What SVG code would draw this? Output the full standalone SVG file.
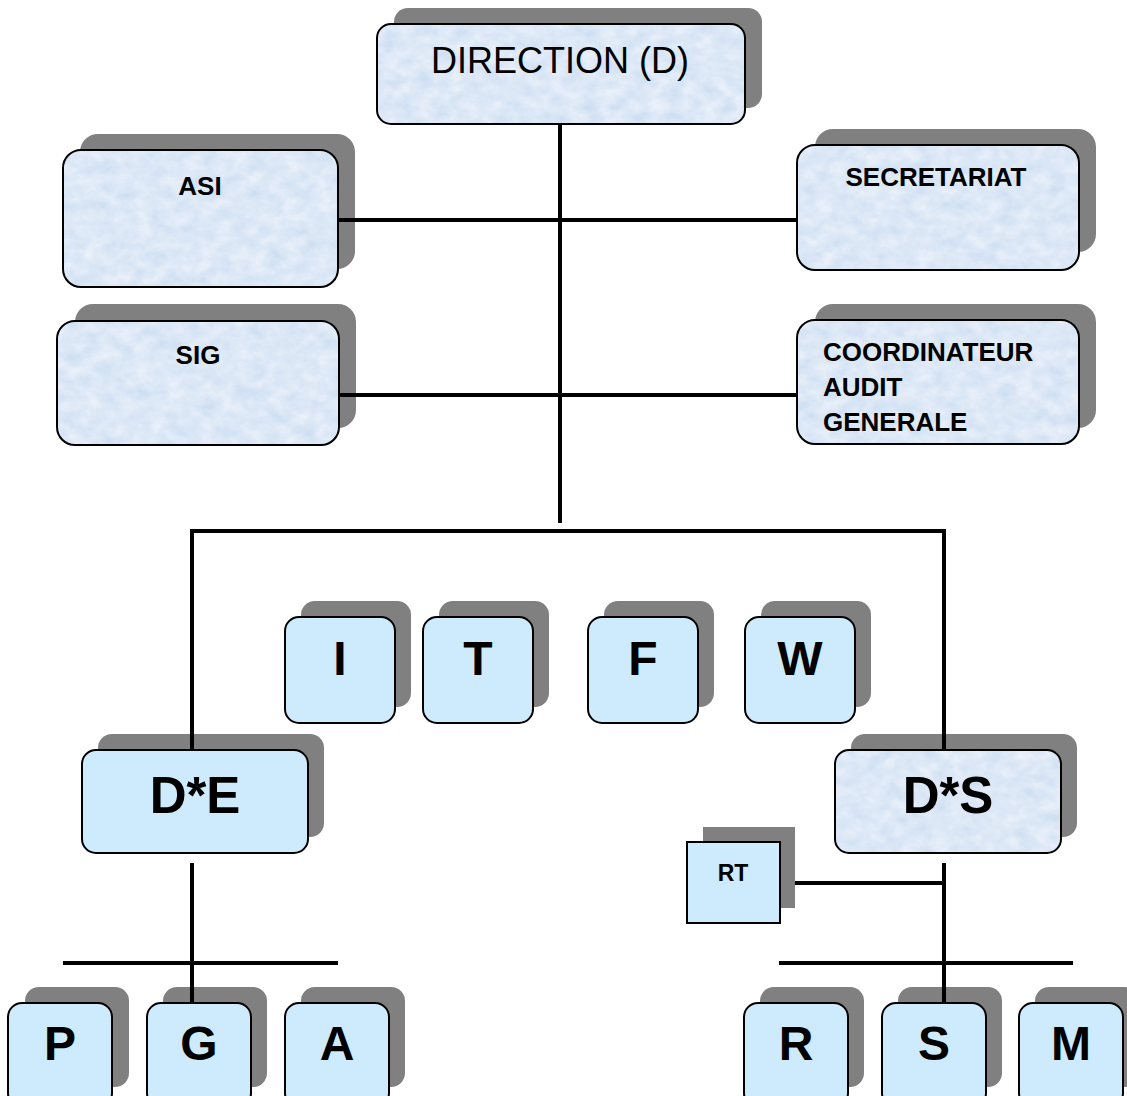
<svg xmlns="http://www.w3.org/2000/svg" width="1127" height="1096" viewBox="0 0 1127 1096">
  <defs>
    <!-- mottled light-blue paper texture for the large boxes -->
    <filter id="marble" x="0" y="0" width="1" height="1" color-interpolation-filters="sRGB">
      <feTurbulence type="fractalNoise" baseFrequency="0.06 0.08" numOctaves="4" seed="7"/>
      <feColorMatrix type="matrix" values="0.16 0 0 0 0.785  0.10 0 0 0 0.86  0.04 0 0 0 0.945  0 0 0 0 1"/>
    </filter>
    <pattern id="tex" patternUnits="userSpaceOnUse" x="0" y="0" width="1127" height="1096">
      <rect width="1127" height="1096" fill="#dce9f6" filter="url(#marble)"/>
    </pattern>
    <style>
      .sh { fill: #808080; }
      .bx { stroke: #000; stroke-width: 2; }
      .tex { fill: url(#tex); }
      .flat { fill: #cdebfd; }
      .t { font-family: "Liberation Sans", Arial, sans-serif; fill: #000; }
      .big { font-size: 36px; text-anchor: middle; }
      .lbl { font-size: 26px; font-weight: bold; }
      .mid { text-anchor: middle; }
      .let { font-size: 48px; font-weight: bold; text-anchor: middle; }
      .dd { font-size: 51px; font-weight: bold; text-anchor: middle; }
      .rt { font-size: 23px; font-weight: bold; text-anchor: middle; }
      .ln { stroke: #000; stroke-width: 4; fill: none; }
    </style>
  </defs>

  <rect width="1127" height="1096" fill="#fff"/>

  <!-- top level -->
  <g id="direction">
    <rect class="sh" x="394" y="8" width="368" height="100" rx="14"/>
    <rect class="bx tex" x="377" y="24" width="368" height="100" rx="14"/>
    <text class="t big" x="560" y="73">DIRECTION (D)</text>
  </g>

  <!-- staff units -->
  <g id="asi">
    <rect class="sh" x="80" y="134" width="275" height="135" rx="18"/>
    <rect class="bx tex" x="63" y="150" width="275" height="137" rx="18"/>
    <text class="t lbl mid" x="200" y="195">ASI</text>
  </g>
  <g id="secretariat">
    <rect class="sh" x="815" y="129" width="281" height="123" rx="18"/>
    <rect class="bx tex" x="797" y="145" width="282" height="125" rx="18"/>
    <text class="t lbl mid" x="936" y="186">SECRETARIAT</text>
  </g>
  <g id="sig">
    <rect class="sh" x="75" y="304" width="281" height="124" rx="18"/>
    <rect class="bx tex" x="57" y="321" width="282" height="124" rx="18"/>
    <text class="t lbl mid" x="198" y="364">SIG</text>
  </g>
  <g id="coordinateur">
    <rect class="sh" x="815" y="304" width="281" height="124" rx="18"/>
    <rect class="bx tex" x="797" y="320" width="282" height="124" rx="18"/>
    <text class="t lbl" x="823" y="361">COORDINATEUR</text>
    <text class="t lbl" x="823" y="396">AUDIT</text>
    <text class="t lbl" x="823" y="431">GENERALE</text>
  </g>

  <!-- middle row -->
  <g id="i">
    <rect class="sh" x="301" y="601" width="110" height="106" rx="14"/>
    <rect class="bx flat" x="285" y="617" width="110" height="106" rx="14"/>
    <text class="t let" x="340" y="675">I</text>
  </g>
  <g id="t">
    <rect class="sh" x="439" y="601" width="110" height="106" rx="14"/>
    <rect class="bx flat" x="423" y="617" width="110" height="106" rx="14"/>
    <text class="t let" x="478" y="675">T</text>
  </g>
  <g id="f">
    <rect class="sh" x="604" y="601" width="110" height="106" rx="14"/>
    <rect class="bx flat" x="588" y="617" width="110" height="106" rx="14"/>
    <text class="t let" x="643" y="675">F</text>
  </g>
  <g id="w">
    <rect class="sh" x="761" y="601" width="110" height="106" rx="14"/>
    <rect class="bx flat" x="745" y="617" width="110" height="106" rx="14"/>
    <text class="t let" x="800" y="675">W</text>
  </g>

  <!-- departments -->
  <g id="de">
    <rect class="sh" x="98" y="734" width="226" height="103" rx="14"/>
    <rect class="bx flat" x="82" y="750" width="226" height="103" rx="14"/>
    <text class="t dd" x="195" y="813">D*E</text>
  </g>
  <g id="ds">
    <rect class="sh" x="851" y="734" width="226" height="103" rx="14"/>
    <rect class="bx tex" x="835" y="750" width="226" height="103" rx="14"/>
    <text class="t dd" x="948" y="813">D*S</text>
  </g>
  <g id="rt">
    <rect class="sh" x="703" y="827" width="92" height="81"/>
    <rect class="bx flat" x="687" y="842" width="93" height="81"/>
    <text class="t rt" x="733" y="881">RT</text>
  </g>

  <!-- bottom row -->
  <g id="p">
    <rect class="sh" x="25" y="987" width="104" height="100" rx="14"/>
    <rect class="bx flat" x="8" y="1003" width="104" height="104" rx="14"/>
    <text class="t let" x="60" y="1060">P</text>
  </g>
  <g id="g">
    <rect class="sh" x="163" y="987" width="104" height="100" rx="14"/>
    <rect class="bx flat" x="147" y="1003" width="104" height="104" rx="14"/>
    <text class="t let" x="199" y="1060">G</text>
  </g>
  <g id="a">
    <rect class="sh" x="301" y="987" width="104" height="100" rx="14"/>
    <rect class="bx flat" x="285" y="1003" width="104" height="104" rx="14"/>
    <text class="t let" x="337" y="1060">A</text>
  </g>
  <g id="r">
    <rect class="sh" x="760" y="987" width="104" height="100" rx="14"/>
    <rect class="bx flat" x="744" y="1003" width="104" height="104" rx="14"/>
    <text class="t let" x="796" y="1060">R</text>
  </g>
  <g id="s">
    <rect class="sh" x="898" y="987" width="104" height="100" rx="14"/>
    <rect class="bx flat" x="882" y="1003" width="104" height="104" rx="14"/>
    <text class="t let" x="934" y="1060">S</text>
  </g>
  <g id="m">
    <rect class="sh" x="1035" y="987" width="104" height="100" rx="14"/>
    <rect class="bx flat" x="1019" y="1003" width="104" height="104" rx="14"/>
    <text class="t let" x="1071" y="1060">M</text>
  </g>

  <!-- connectors -->
  <g id="connectors" class="ln">
    <line x1="560" y1="124" x2="560" y2="523"/>
    <line x1="339" y1="220" x2="798" y2="220"/>
    <line x1="340" y1="395" x2="798" y2="395"/>
    <line x1="190" y1="531" x2="946" y2="531"/>
    <line x1="192" y1="529" x2="192" y2="750"/>
    <line x1="944" y1="529" x2="944" y2="750"/>
    <line x1="192" y1="863" x2="192" y2="1003"/>
    <line x1="63" y1="963" x2="338" y2="963"/>
    <line x1="944" y1="863" x2="944" y2="1003"/>
    <line x1="779" y1="963" x2="1073" y2="963"/>
    <line x1="795" y1="883" x2="944" y2="883"/>
  </g>
</svg>
